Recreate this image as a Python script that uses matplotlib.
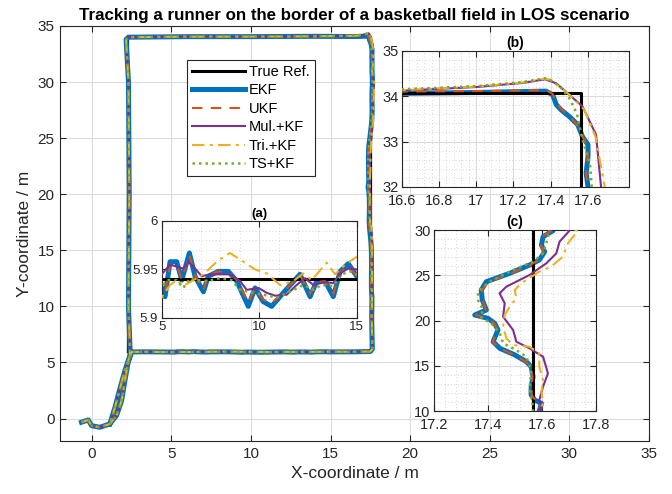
import numpy as np
import matplotlib
matplotlib.use('Agg')
import matplotlib.pyplot as plt
from matplotlib.ticker import AutoMinorLocator

plt.rcParams['font.family'] = ['Liberation Sans', 'DejaVu Sans']

# common parts of the track (all filters overlap there)
start_x = [-0.65, -0.23, -0.02, 0.5, 1.13, 1.55, 1.87, 2.08, 2.28, 2.5, 3.5]
start_y = [-0.33, -0.12, -0.63, -0.78, -0.48, 0.27, 1.6, 3.4, 5.0, 5.94, 5.95]
bend_x = [16.5, 17.5, 17.62, 17.6, 17.58]
bend_y = [5.95, 5.98, 6.2, 7.5, 9.0]
gap_x = [17.6]
gap_y = [31.0]
back_x = [14.0, 10.0, 6.0, 2.3, 2.15, 2.3, 2.35, 2.3, 2.4, 2.39, 2.08, 1.76, 1.45, 1.13]
back_y = [34.08, 34.05, 34.05, 34.0, 33.8, 30.0, 20.0, 10.0, 6.2, 5.6, 4.3, 2.65, 1.0, -0.48]

# true reference rectangle
ref_x = [2.3, 17.565, 17.565, 2.3, 2.3]
ref_y = [5.94, 5.94, 34.06, 34.06, 5.94]

# EKF
ekf_ax = [5.0, 5.17, 5.43, 5.77, 6.03, 6.42, 6.71, 7.14, 7.39, 7.9, 8.42, 8.85, 9.44, 9.79, 10.2,
          10.64, 11.24, 12.09, 12.61, 12.95, 13.38, 13.8, 14.15, 14.57, 15.0]
ekf_ay = [5.931, 5.922, 5.958, 5.958, 5.939, 5.967, 5.943, 5.927, 5.943, 5.948, 5.948, 5.938, 5.912,
          5.931, 5.917, 5.912, 5.926, 5.945, 5.922, 5.938, 5.938, 5.922, 5.948, 5.956, 5.943]
ekf_cx = [17.59, 17.598, 17.573, 17.56, 17.56, 17.567, 17.56, 17.542, 17.5, 17.444, 17.419, 17.437, 17.425,
          17.4, 17.351, 17.394, 17.379, 17.375, 17.394, 17.48, 17.554, 17.59, 17.61, 17.598, 17.604, 17.641]
ekf_cy = [10.0, 10.85, 11.21, 11.77, 12.69, 13.79, 14.9, 15.45, 16.19, 16.92, 17.66, 18.95, 19.69,
          20.24, 20.61, 21.16, 22.27, 23.37, 24.29, 25.21, 26.13, 26.69, 27.6, 28.34, 29.26, 29.93]
ekf_bx = [17.6, 17.59, 17.6, 17.6, 17.57, 17.545, 17.5, 17.455, 17.43, 17.41, 17.375, 17.0, 16.6]
ekf_by = [32.0, 32.31, 32.67, 32.93, 33.11, 33.37, 33.55, 33.70, 33.81, 34.03, 34.11, 34.08, 34.06]

# UKF
ukf_ax = ekf_ax
ukf_ay = [5.928, 5.925, 5.955, 5.955, 5.94, 5.965, 5.944, 5.929, 5.944, 5.948, 5.947, 5.939, 5.916,
          5.93, 5.919, 5.915, 5.927, 5.944, 5.925, 5.937, 5.938, 5.925, 5.947, 5.954, 5.943]
ukf_cx = [17.588, 17.595, 17.575, 17.562, 17.562, 17.565, 17.558, 17.54, 17.498, 17.442, 17.418, 17.435, 17.423,
          17.4, 17.355, 17.392, 17.38, 17.378, 17.4, 17.485, 17.556, 17.588, 17.606, 17.596, 17.602, 17.636]
ukf_cy = ekf_cy
ukf_bx = [17.6, 17.59, 17.598, 17.595, 17.568, 17.54, 17.5, 17.458, 17.435, 17.41, 17.375, 17.0, 16.6]
ukf_by = [32.0, 32.31, 32.67, 32.93, 33.12, 33.38, 33.56, 33.71, 33.83, 34.05, 34.13, 34.11, 34.10]

# Mul.+KF
mul_ax = [5.0, 5.43, 5.77, 6.11, 6.37, 6.71, 7.05, 7.48, 8.5, 9.02, 9.36, 9.96, 10.38, 10.81, 11.41,
          11.92, 12.35, 12.78, 13.38, 13.8, 14.15, 14.57, 15.0]
mul_ay = [5.945, 5.955, 5.953, 5.951, 5.958, 5.951, 5.943, 5.945, 5.945, 5.938, 5.929, 5.931, 5.926,
          5.923, 5.924, 5.934, 5.941, 5.934, 5.937, 5.936, 5.946, 5.951, 5.95]
mul_cx = [17.585, 17.598, 17.59, 17.604, 17.622, 17.604, 17.554, 17.505, 17.493, 17.456, 17.462, 17.443,
          17.468, 17.554, 17.616, 17.653, 17.665, 17.702]
mul_cy = [10.0, 10.48, 11.21, 12.69, 14.16, 16.0, 16.92, 17.66, 18.95, 20.42, 21.9, 23.0, 23.74, 25.03,
          26.32, 27.42, 28.71, 29.93]
mul_bx = [17.67, 17.643, 17.571, 17.5, 17.43, 17.37, 17.25, 17.0, 16.6]
mul_by = [32.0, 33.15, 33.77, 34.03, 34.28, 34.37, 34.29, 34.2, 34.12]

# Tri.+KF
tri_ax = [5.0, 5.43, 5.77, 6.11, 6.62, 7.14, 7.82, 8.5, 9.19, 9.79, 10.38, 11.07, 11.75, 12.26, 12.69,
          13.46, 13.89, 14.4, 15.0]
tri_ay = [5.921, 5.934, 5.939, 5.933, 5.939, 5.945, 5.958, 5.967, 5.958, 5.950, 5.946, 5.934, 5.938,
          5.946, 5.939, 5.957, 5.945, 5.955, 5.963]
tri_cx = [17.59, 17.604, 17.598, 17.604, 17.59, 17.59, 17.554, 17.493, 17.468, 17.456, 17.462, 17.48,
          17.505, 17.499, 17.523, 17.59, 17.634, 17.677, 17.696, 17.733]
tri_cy = [10.0, 10.85, 12.14, 13.42, 14.9, 16.37, 17.1, 17.29, 18.03, 19.32, 20.61, 21.53, 22.45, 23.37,
          24.11, 25.4, 25.95, 27.05, 28.53, 29.93]
tri_bx = [17.69, 17.64, 17.58, 17.5, 17.4, 17.36, 17.25, 17.0, 16.6]
tri_by = [32.0, 33.11, 33.70, 34.03, 34.36, 34.38, 34.3, 34.21, 34.13]

# TS+KF
ts_ax = [5.0, 5.34, 5.77, 6.11, 6.45, 6.88, 7.31, 8.0, 8.59, 9.02, 9.7, 10.21, 10.9, 11.58, 12.26,
         12.78, 13.2, 13.8, 14.23, 14.66, 15.0]
ts_ay = [5.933, 5.939, 5.939, 5.931, 5.941, 5.939, 5.938, 5.941, 5.939, 5.929, 5.926, 5.924, 5.921,
         5.927, 5.934, 5.929, 5.934, 5.933, 5.945, 5.948, 5.945]
ts_cx = [17.567, 17.567, 17.554, 17.56, 17.542, 17.505, 17.456, 17.444, 17.412, 17.37, 17.382, 17.363,
         17.363, 17.406, 17.493, 17.567, 17.604, 17.616, 17.628]
ts_cy = [10.0, 10.48, 12.32, 14.53, 16.0, 16.74, 17.48, 18.58, 19.69, 20.42, 21.16, 22.27, 23.19,
         24.29, 25.58, 26.5, 27.42, 28.53, 29.93]
ts_bx = [17.62, 17.61, 17.57, 17.54, 17.5, 17.45, 17.38, 17.25, 17.0, 16.6]
ts_by = [32.0, 32.53, 33.04, 33.62, 33.95, 34.21, 34.40, 34.31, 34.22, 34.15]


def track(ax_, ay_, cx_, cy_, bx_, by_):
    x = start_x + ax_ + bend_x + cx_ + gap_x + bx_ + back_x
    y = start_y + ay_ + bend_y + cy_ + gap_y + by_ + back_y
    return x, y


series = [
    ('EKF', track(ekf_ax, ekf_ay, ekf_cx, ekf_cy, ekf_bx, ekf_by), dict(color='#0072BD', lw=3.6, ls='-')),
    ('UKF', track(ukf_ax, ukf_ay, ukf_cx, ukf_cy, ukf_bx, ukf_by), dict(color='#D95319', lw=1.5, ls=(0, (5, 4)))),
    ('Mul.+KF', track(mul_ax, mul_ay, mul_cx, mul_cy, mul_bx, mul_by), dict(color='#7E2F8E', lw=1.5, ls='-')),
    ('Tri.+KF', track(tri_ax, tri_ay, tri_cx, tri_cy, tri_bx, tri_by), dict(color='#EDB120', lw=1.5, ls=(0, (6, 2.5, 1.5, 2.5)))),
    ('TS+KF', track(ts_ax, ts_ay, ts_cx, ts_cy, ts_bx, ts_by), dict(color='#77AC30', lw=1.8, ls=(0, (1, 1.6)))),
]

axc = '#262626'


def draw(ax, ref_on_top=True):
    ax.plot(ref_x, ref_y, color='k', lw=2.2 if ref_on_top else 1.6, label='True Ref.',
            zorder=2 if ref_on_top else 1)
    for name, (x, y), st in series:
        ax.plot(x, y, label=name, zorder=3 if name != 'EKF' else 1.5, **st)


def style(ax, fs, minor=False):
    ax.tick_params(direction='in', which='both', top=True, right=True, labelsize=fs,
                   colors=axc, length=4, width=0.8, pad=2.5)
    for s in ax.spines.values():
        s.set_color(axc)
        s.set_linewidth(0.8)
    ax.grid(True, which='major', color='#dcdcdc', lw=0.8)
    if minor:
        ax.xaxis.set_minor_locator(AutoMinorLocator(5))
        ax.yaxis.set_minor_locator(AutoMinorLocator(5))
        ax.tick_params(which='minor', length=0)
        ax.grid(True, which='minor', color='#c8c8c8', lw=0.6, ls=(0, (1, 3)))
    ax.set_axisbelow(True)


fig = plt.figure(figsize=(6.72, 4.94), dpi=100)

ax = fig.add_axes([0.0893, 0.1073, 0.8765, 0.8401])
draw(ax, ref_on_top=False)
ax.set_xlim(-2, 35)
ax.set_ylim(-2, 35)
ax.set_xticks(np.arange(0, 36, 5))
ax.set_yticks(np.arange(0, 36, 5))
style(ax, 11)
ax.tick_params(pad=4)
ax.set_xlabel('X-coordinate / m', fontsize=12.5, color=axc)
ax.set_ylabel('Y-coordinate / m', fontsize=12.5, color=axc)
ax.set_title('Tracking a runner on the border of a basketball field in LOS scenario',
             fontsize=12.2, fontweight='bold', pad=4)
leg = ax.legend(loc='upper left', bbox_to_anchor=(0.2156, 0.918), borderaxespad=0, fontsize=10.5,
                handlelength=3.6, labelspacing=0.3, handletextpad=0.3, borderpad=0.35,
                fancybox=False, edgecolor=axc, framealpha=1)
leg.get_frame().set_linewidth(0.8)
for h in leg.get_lines()[:1]:
    h.set_linewidth(2.2)

# inset (a)
axa = fig.add_axes([0.2406, 0.3563, 0.2902, 0.1964])
draw(axa)
axa.set_xlim(5, 15)
axa.set_ylim(5.9, 6.0)
axa.set_xticks([5, 10, 15])
axa.set_yticks([5.9, 5.95, 6.0])
axa.set_yticklabels(['5.9', '5.95', '6'])
style(axa, 9.5, minor=True)
axa.set_title('(a)', fontsize=9.5, fontweight='bold', pad=3)

# inset (b)
axb = fig.add_axes([0.5978, 0.6215, 0.3382, 0.2759])
draw(axb)
axb.set_xlim(16.6, 17.82)
axb.set_ylim(32, 35)
axb.set_xticks([16.6, 16.8, 17.0, 17.2, 17.4, 17.6])
axb.set_xticklabels(['16.6', '16.8', '17', '17.2', '17.4', '17.6'])
axb.set_yticks([32, 33, 34, 35])
style(axb, 10.5, minor=True)
axb.tick_params(axis='x', pad=5)
axb.set_title('(b)', fontsize=10, fontweight='bold', pad=3)

# inset (c)
axc_ = fig.add_axes([0.6458, 0.1680, 0.2411, 0.3664])
draw(axc_)
axc_.set_xlim(17.2, 17.8)
axc_.set_ylim(10, 30)
axc_.set_xticks([17.2, 17.4, 17.6, 17.8])
axc_.set_yticks([10, 15, 20, 25, 30])
style(axc_, 10.5, minor=True)
axc_.tick_params(axis='x', pad=5)
axc_.set_title('(c)', fontsize=10, fontweight='bold', pad=3)

fig.savefig('out.png', dpi=100)
